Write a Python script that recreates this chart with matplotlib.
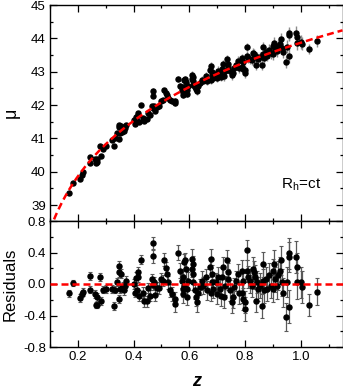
import numpy as np
import matplotlib
matplotlib.use("Agg")
import matplotlib.pyplot as plt
from matplotlib.ticker import MultipleLocator, FixedLocator, FixedFormatter

plt.rcParams['font.family'] = ['Liberation Sans', 'DejaVu Sans']
plt.rcParams['axes.unicode_minus'] = False
plt.rcParams['mathtext.fontset'] = 'custom'
plt.rcParams['mathtext.rm'] = 'Liberation Sans'

# ---- data ----
z = [0.169, 0.182, 0.209, 0.216, 0.220, 0.245, 0.245, 0.262, 0.265, 0.270, 0.268, 0.281,
     0.284, 0.290, 0.302, 0.323, 0.331, 0.335, 0.342, 0.347, 0.348, 0.348, 0.353, 0.361,
     0.356, 0.358, 0.364, 0.372, 0.370, 0.402, 0.404, 0.408, 0.415, 0.417, 0.412, 0.421,
     0.427, 0.433, 0.439, 0.448, 0.450, 0.459, 0.465, 0.468, 0.471, 0.469, 0.474, 0.478,
     0.483, 0.491, 0.498, 0.505, 0.511, 0.516, 0.519, 0.525, 0.531, 0.537, 0.547, 0.549,
     0.561, 0.567, 0.573, 0.577, 0.581, 0.585, 0.589, 0.579, 0.581, 0.591, 0.577, 0.593,
     0.597, 0.609, 0.613, 0.610, 0.615, 0.613, 0.621, 0.624, 0.629, 0.633, 0.639, 0.645,
     0.651, 0.663, 0.660, 0.677, 0.675, 0.681, 0.683, 0.686, 0.678, 0.696, 0.704, 0.701,
     0.711, 0.714, 0.717, 0.722, 0.728, 0.726, 0.737, 0.740, 0.738, 0.746, 0.752, 0.756,
     0.762, 0.768, 0.776, 0.780,
     0.788, 0.792, 0.788, 0.794, 0.800, 0.800, 0.808, 0.806, 0.812, 0.818, 0.824, 0.828,
     0.832, 0.836, 0.840, 0.844, 0.848, 0.854, 0.860, 0.864, 0.866, 0.868, 0.876, 0.878,
     0.887, 0.892, 0.900, 0.902, 0.905, 0.908, 0.914, 0.920, 0.926, 0.928, 0.932, 0.935,
     0.947, 0.950, 0.959, 0.959, 0.959, 0.983, 0.986, 0.988, 1.000, 1.004, 1.031, 1.060]

residuals = [-0.12, 0.01, -0.18, -0.13, -0.10, 0.10, -0.07, -0.13, -0.27, -0.27, -0.17, 0.09,
             -0.22, -0.07, -0.06, -0.06, -0.28, -0.07, 0.03, 0.15, 0.23, -0.19, -0.06, -0.03,
             0.13, -0.05, -0.08, 0.04, -0.02, 0.00, -0.11, 0.08, 0.15, 0.085, -0.08, -0.15,
             0.31, -0.11, -0.22, -0.22, -0.05, -0.15, 0.06, 0.52, 0.35, -0.01, 0.02, -0.14,
             -0.05, -0.05, 0.06, 0.04, 0.31, 0.20, 0.13, 0.02, -0.08, -0.13, -0.19, -0.26,
             0.40, 0.17, 0.04, -0.06, 0.28, 0.30, 0.19, 0.085, -0.02, -0.06, -0.13, -0.17,
             0.04, 0.32, 0.25, 0.19, 0.13, 0.02, -0.08, -0.17, -0.23, -0.11, -0.04, 0.04,
             -0.02, -0.08, 0.085, 0.32, 0.21, 0.13, 0.02, -0.06, -0.11, 0.02, 0.085, -0.13,
             -0.06, -0.15, 0.085, 0.21, -0.02, -0.17, 0.30, 0.15, 0.06, -0.08, -0.23, -0.17,
             -0.04, 0.04, 0.13, -0.11,
             0.17, 0.04, -0.11, -0.19, -0.23, -0.32, 0.43, 0.17, 0.085, 0.04, -0.02, 0.19,
             0.15, 0.085, -0.21, 0.02, -0.06, -0.02, -0.28, 0.25, 0.04, -0.08, 0.06, -0.06,
             0.11, -0.02, -0.06, 0.16, 0.26, 0.06, -0.02, 0.11, 0.17, 0.30, 0.02, -0.11,
             -0.42, 0.02, 0.39, 0.34, -0.29, 0.34, 0.21, 0.02, 0.02, -0.04, -0.27, -0.10]

errors = [0.04, 0.04, 0.05, 0.04, 0.05, 0.05, 0.04, 0.05, 0.04, 0.04, 0.05, 0.05,
          0.05, 0.04, 0.05, 0.05, 0.05, 0.05, 0.05, 0.06, 0.06, 0.05, 0.05, 0.06,
          0.06, 0.05, 0.06, 0.06, 0.05, 0.06, 0.06, 0.07, 0.06, 0.06, 0.07, 0.07,
          0.06, 0.07, 0.07, 0.07, 0.06, 0.07, 0.07, 0.08, 0.08, 0.07, 0.07, 0.08,
          0.07, 0.08, 0.08, 0.07, 0.08, 0.08, 0.09, 0.08, 0.08, 0.09, 0.09, 0.09,
          0.09, 0.10, 0.09, 0.10, 0.10, 0.10, 0.11, 0.10, 0.09, 0.10, 0.11, 0.10,
          0.11, 0.12, 0.11, 0.10, 0.11, 0.10, 0.11, 0.11, 0.12, 0.11, 0.10, 0.12,
          0.11, 0.12, 0.11, 0.12, 0.12, 0.11, 0.12, 0.12, 0.11, 0.12, 0.13, 0.12,
          0.12, 0.13, 0.12, 0.13, 0.12, 0.13, 0.13, 0.12, 0.13, 0.13, 0.14, 0.13,
          0.12, 0.13, 0.13, 0.14,
          0.13, 0.14, 0.13, 0.14, 0.14, 0.15, 0.13, 0.14, 0.14, 0.15, 0.14, 0.15,
          0.14, 0.15, 0.15, 0.14, 0.15, 0.16, 0.15, 0.16, 0.15, 0.16, 0.16, 0.15,
          0.16, 0.16, 0.17, 0.16, 0.17, 0.16, 0.17, 0.18, 0.17, 0.18, 0.17, 0.18,
          0.18, 0.19, 0.20, 0.19, 0.21, 0.20, 0.19, 0.21, 0.20, 0.20, 0.14, 0.17]

H0 = 70.0          # km/s/Mpc for the R_h=ct curve
model_label = 'R$_\\mathregular{h}$=ct'
top_yticks = [39, 40, 41, 42, 43, 44, 45]
res_yticks = [-0.8, -0.4, 0.0, 0.4, 0.8]
res_yticklabels = ['-0.8', '-0.4', '0.0', '0.4', '0.8']
xticks = [0.2, 0.4, 0.6, 0.8, 1.0]
xticklabels = ['0.2', '0.4', '0.6', '0.8', '1.0']


def mu_rhct(zz):
    zz = np.asarray(zz, dtype=float)
    dl = 299792.458 / H0 * (1 + zz) * np.log(1 + zz)
    return 5 * np.log10(dl) + 25


z_arr = np.array(z)
res_arr = np.array(residuals)
err_arr = np.array(errors)
mu_arr = mu_rhct(z_arr) + res_arr   # distance moduli of the data points

zc = np.linspace(0.1, 1.15, 400)

fig = plt.figure(figsize=(3.43, 3.91), dpi=100)
W = 292.5 / 343
L = 50 / 343
ax1 = fig.add_axes([L, (391 - 221) / 391, W, 216 / 391])
ax2 = fig.add_axes([L, (391 - 347) / 391, W, 126 / 391])

dash = dict(color='red', lw=1.8, dashes=(2.8, 1.6), zorder=5)

ax1.errorbar(z_arr, mu_arr, yerr=err_arr, fmt='o', ms=3.6, mfc='black', mec='black',
             ecolor='0.55', elinewidth=1.0, capsize=0, zorder=3)
ax1.plot(zc, mu_rhct(zc), **dash)
ax1.set_xlim(0.1, 1.15)
ax1.set_ylim(38.52, 45)
ax1.yaxis.set_major_locator(FixedLocator(top_yticks))
ax1.yaxis.set_minor_locator(MultipleLocator(0.5))
ax1.xaxis.set_major_locator(FixedLocator(xticks))
ax1.xaxis.set_minor_locator(MultipleLocator(0.1))
ax1.tick_params(labelbottom=False)
ax1.set_ylabel('μ', fontsize=13)
ax1.text(281, 203, model_label, transform=None, fontsize=11, ha='left', va='baseline')

ax2.errorbar(z_arr, res_arr, yerr=err_arr, fmt='o', ms=3.6, mfc='black', mec='black',
             ecolor='0.35', elinewidth=0.9, capsize=1.5, capthick=0.8, zorder=3)
ax2.axhline(0.0, **dash)
ax2.set_xlim(0.1, 1.15)
ax2.set_ylim(-0.8, 0.8)
ax2.yaxis.set_major_locator(FixedLocator(res_yticks))
ax2.yaxis.set_major_formatter(FixedFormatter(res_yticklabels))
ax2.yaxis.set_minor_locator(MultipleLocator(0.2))
ax2.xaxis.set_major_locator(FixedLocator(xticks))
ax2.xaxis.set_major_formatter(FixedFormatter(xticklabels))
ax2.xaxis.set_minor_locator(MultipleLocator(0.1))
ax2.set_ylabel('Residuals', fontsize=12)

fig.text(197 / 343, 1 - 386 / 391, 'z', fontsize=13, fontstyle='italic',
         fontweight='bold', ha='center', va='baseline')

for ax in (ax1, ax2):
    ax.tick_params(which='both', direction='in', top=True, right=True, width=0.9,
                   labelsize=9.5, pad=3)
    ax.tick_params(which='major', length=5)
    ax.tick_params(which='minor', length=2.5)
    for s in ax.spines.values():
        s.set_linewidth(1.0)

# label positions (right edge of rotated label, in axes fraction)
ax1.yaxis.set_label_coords(-30 / 292.5, 0.5)
ax2.yaxis.set_label_coords(-32 / 292.5, 0.5)

fig.savefig('out.png', dpi=100)
